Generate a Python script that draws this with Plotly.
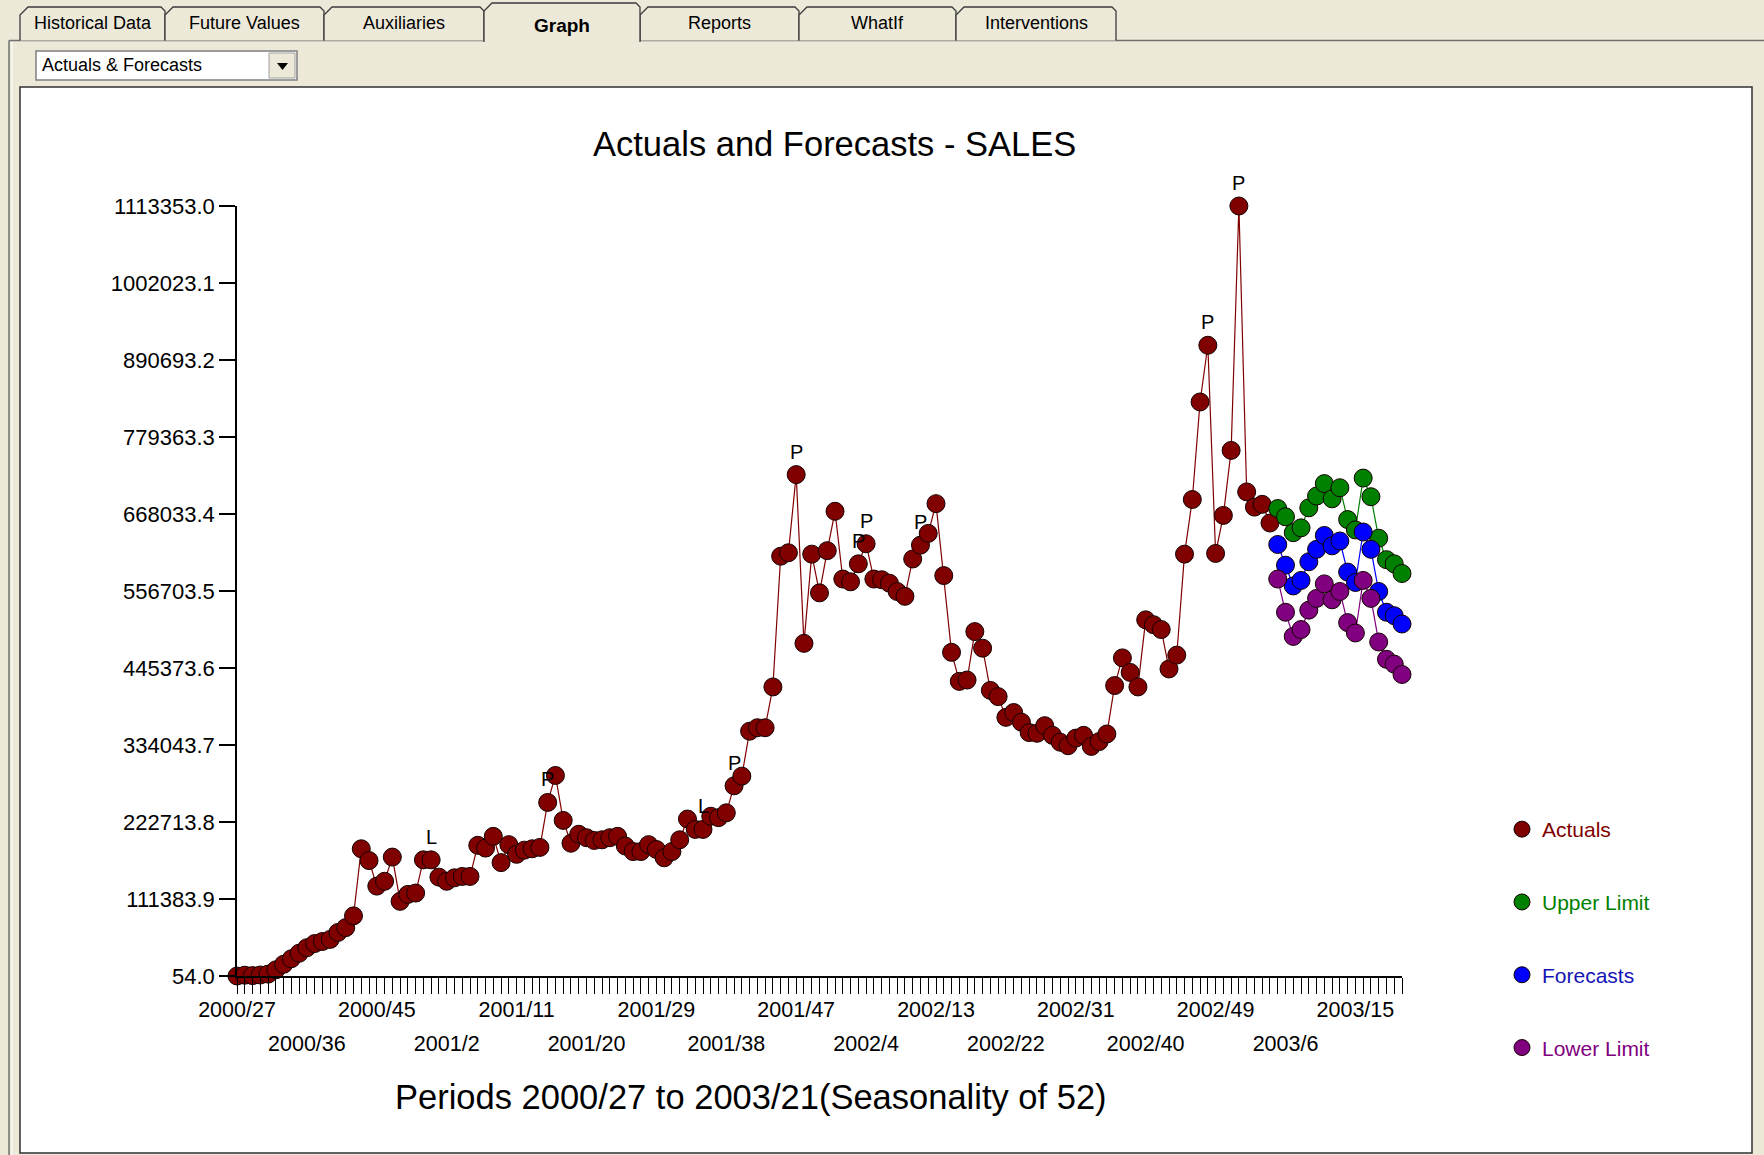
import plotly.graph_objects as go

# weekly sales, periods 2000/27 .. 2003/4 actuals, then 17 forecast periods
ACTUALS = [
    54, 1200, 600, 1500, 2800, 9000, 17000, 25000, 33000, 41000,
    47000, 50000, 53000, 63000, 70000, 87000, 184000, 167000, 130000, 137000,
    172000, 108000, 118000, 120000, 168000, 168000, 143000, 137000, 142000, 144000,
    144000, 189000, 185000, 202000, 164000, 190000, 176000, 182000, 184000, 186000,
    251000, 290000, 225000, 192000, 205000, 200000, 196000, 197000, 200000, 202000,
    188000, 180000, 180000, 190000, 183000, 171000, 180000, 197000, 227000, 212000,
    212000, 231000, 229000, 236000, 275000, 289000, 354000, 359000, 359000, 418000,
    607000, 612000, 725000, 481000, 610000, 554000, 615000, 672000, 574000, 570000,
    596000, 625000, 574000, 573000, 568000, 556000, 549000, 603000, 623000, 640000,
    683000, 579000, 468000, 426000, 428000, 498000, 474000, 413000, 404000, 374000,
    381000, 367000, 352000, 351000, 362000, 348000, 338000, 333000, 344000, 348000,
    332000, 339000, 350000, 420000, 460000, 439000, 418000, 515000, 508000, 501000,
    444000, 464000, 610000, 689000, 830000, 912000, 611000, 666000, 760000, 1113353,
    700000, 678000, 682000, 655000,
]
UPPER = [676000, 664000, 641000, 648000, 677000, 694000, 712000, 690000, 706000,
         660000, 645000, 720000, 693000, 633000, 602000, 596000, 582000]
FORECASTS = [624000, 594000, 564000, 572000, 599000, 617000, 637000, 622000, 629000,
             584000, 569000, 642000, 617000, 556000, 526000, 521000, 509000]
LOWER = [574000, 526000, 491000, 501000, 529000, 546000, 567000, 544000, 556000,
         511000, 496000, 572000, 546000, 483000, 458000, 451000, 436000]

# outlier flags shown above points
FLAG_INDEX = [25, 40, 60, 64, 72, 80, 81, 88, 125, 129]
FLAG_TEXT = ["L", "P", "L", "P", "P", "P", "P", "P", "P", "P"]

Y_TICK_LABELS = ["54.0", "111383.9", "222713.8", "334043.7", "445373.6", "556703.5",
                 "668033.4", "779363.3", "890693.2", "1002023.1", "1113353.0"]
X_ROW1_LABELS = ["2000/27", "2000/45", "2001/11", "2001/29", "2001/47", "2002/13",
                 "2002/31", "2002/49", "2003/15"]
X_ROW2_LABELS = ["2000/36", "2001/2", "2001/20", "2001/38", "2002/4", "2002/22",
                 "2002/40", "2003/6"]
TABS = ["Historical Data", "Future Values", "Auxiliaries", "Graph", "Reports", "WhatIf", "Interventions"]
SELECTED_TAB = "Graph"
SERIES_NAMES = ["Actuals", "Upper Limit", "Forecasts", "Lower Limit"]

W, H = 1764, 1155
ML, MR, MT, MB = 237, 362, 206, 179
PW, PH = W - ML - MR, H - MT - MB
BEIGE = "#ECE9D8"
FONT = "Liberation Sans, Arial, sans-serif"


def px(x):
    return (x - ML) / PW


def py(y):
    return (H - MB - y) / PH


def label_index(label):
    year, week = (int(p) for p in label.split("/"))
    return (year - 2000) * 52 + week - 27


n_act = len(ACTUALS)
n_all = n_act + len(FORECASTS)
x_act = list(range(n_act))
x_fc = list(range(n_act, n_all))

colors = {"Actuals": "#800000", "Upper Limit": "#008000", "Forecasts": "#0000FF", "Lower Limit": "#800080"}
text_colors = {"Actuals": "#800000", "Upper Limit": "#008000", "Forecasts": "#1414B4", "Lower Limit": "#800080"}

fig = go.Figure()
for name, xs, ys in [("Actuals", x_act, ACTUALS), ("Upper Limit", x_fc, UPPER),
                     ("Forecasts", x_fc, FORECASTS), ("Lower Limit", x_fc, LOWER)]:
    fig.add_trace(go.Scatter(
        x=xs, y=ys, mode="lines+markers", name=name, showlegend=False, cliponaxis=False,
        line=dict(color=colors[name], width=1.2),
        marker=dict(size=18, color=colors[name], line=dict(color="#140000", width=1)),
    ))

# legend entries (markers only)
for name in SERIES_NAMES:
    fig.add_trace(go.Scatter(
        x=[None], y=[None], mode="markers", xaxis="x2", legendgroup=name,
        name=f"<span style='color:{text_colors[name]}'>{name}</span>",
        marker=dict(size=16, color=colors[name], line=dict(color="#140000", width=1)),
    ))

row1 = {label_index(l): l for l in X_ROW1_LABELS}
tick_vals = list(range(n_all))
tick_text = [row1.get(i, "") for i in tick_vals]

annotations = []
for i, t in zip(FLAG_INDEX, FLAG_TEXT):
    annotations.append(dict(x=i, y=ACTUALS[i], xref="x", yref="y", text=t, showarrow=False,
                            xanchor="center", yshift=23, font=dict(size=20, color="black")))


def note(x, y, text, size, anchor="center"):
    annotations.append(dict(x=px(x), y=py(y), xref="paper", yref="paper", text=text, showarrow=False,
                            xanchor=anchor, yanchor="middle", font=dict(size=size, color="black")))


note(834, 144, "Actuals and Forecasts - SALES", 34.5)
note(751, 1097, "Periods 2000/27 to 2003/21(Seasonality of 52)", 34.5)

shapes = []


def rect(x0, y0, x1, y1, fill, line="rgba(0,0,0,0)", width=1, layer="above"):
    shapes.append(dict(type="rect", xref="paper", yref="paper", x0=px(x0), x1=px(x1), y0=py(y1), y1=py(y0),
                       fillcolor=fill, line=dict(color=line, width=width), layer=layer))


def seg(x0, y0, x1, y1, color, width=1):
    shapes.append(dict(type="line", xref="paper", yref="paper", x0=px(x0), x1=px(x1), y0=py(y0), y1=py(y1),
                       line=dict(color=color, width=width)))


def path(points, fill="rgba(0,0,0,0)", line="rgba(0,0,0,0)", width=1, close=False):
    d = "M " + " L ".join(f"{px(x):.5f},{py(y):.5f}" for x, y in points)
    if close:
        d += " Z"
    shapes.append(dict(type="path", xref="paper", yref="paper", path=d, fillcolor=fill,
                       line=dict(color=line, width=width)))


# chart panel
rect(20, 87, 1752, 1153, "white", "#303030", 1.5, layer="below")
# tab control frame
seg(9, 40.5, 1764, 40.5, "#6f6f6f", 1.5)
seg(9, 40.5, 9, 1155, "#6f6f6f", 1.5)
seg(12, 42, 12, 1155, "white", 1)

# tabs
edges = [20, 165, 324, 484, 640, 799, 956, 1116]
order = [i for i, t in enumerate(TABS) if t != SELECTED_TAB] + [TABS.index(SELECTED_TAB)]
for i in order:
    x0, x1 = edges[i], edges[i + 1]
    sel = TABS[i] == SELECTED_TAB
    top, bot = (3, 42) if sel else (7, 40.5)
    pts = [(x0, bot), (x0, top + 8), (x0 + 8, top), (x1 - 4, top), (x1, top + 4), (x1, bot)]
    path(pts, fill=BEIGE, close=True)
    path(pts, line="#3a3a3a", width=1.3)
    note((x0 + x1) / 2, 26 if sel else 23.5, f"<b>{TABS[i]}</b>" if sel else TABS[i], 19 if sel else 18)

# dropdown
rect(36, 51, 297, 80, "white", "#7f7f7f", 1.5)
rect(269, 53, 295, 78, BEIGE, "#a0a0a0", 1)
path([(277, 63), (288, 63), (282.5, 70)], fill="black", close=True)
note(40, 65, "Actuals &amp; Forecasts", 18, anchor="left")

fig.update_layout(
    width=W, height=H, autosize=False,
    margin=dict(l=ML, r=MR, t=MT, b=MB, pad=0),
    paper_bgcolor=BEIGE, plot_bgcolor="white",
    font=dict(family=FONT, color="black"),
    xaxis=dict(range=[0, n_all - 1], tickmode="array", tickvals=tick_vals, ticktext=tick_text,
               ticks="outside", ticklen=16, tickwidth=1, tickcolor="black", showline=True,
               linecolor="black", linewidth=1.5, showgrid=False, zeroline=False,
               tickfont=dict(size=21.5, color="black"), tickangle=0, ticklabelstandoff=-3),
    xaxis2=dict(range=[0, n_all - 1], overlaying="x", anchor="y", side="bottom", tickmode="array",
                tickvals=[label_index(l) for l in X_ROW2_LABELS], ticktext=X_ROW2_LABELS,
                ticks="outside", ticklen=16, tickcolor="rgba(0,0,0,0)", ticklabelstandoff=32,
                showline=False, showgrid=False, zeroline=False, tickfont=dict(size=21.5, color="black"),
                tickangle=0),
    yaxis=dict(range=[float(Y_TICK_LABELS[0]), float(Y_TICK_LABELS[-1])], tickmode="array",
               tickvals=[float(v) for v in Y_TICK_LABELS], ticktext=Y_TICK_LABELS,
               ticks="outside", ticklen=16, tickwidth=1.5, tickcolor="black", showline=True,
               linecolor="black", linewidth=1.5, showgrid=False, zeroline=False,
               tickfont=dict(size=22, color="black")),
    legend=dict(x=px(1502), y=py(809), xanchor="left", yanchor="top", tracegroupgap=42.5,
                font=dict(size=21), bgcolor="rgba(0,0,0,0)", itemsizing="trace"),
    showlegend=True,
    annotations=annotations,
    shapes=shapes,
)

fig.write_html("out.html", config={"displayModeBar": False},
               post_script="document.body.style.margin='0';document.body.style.overflow='hidden';")
